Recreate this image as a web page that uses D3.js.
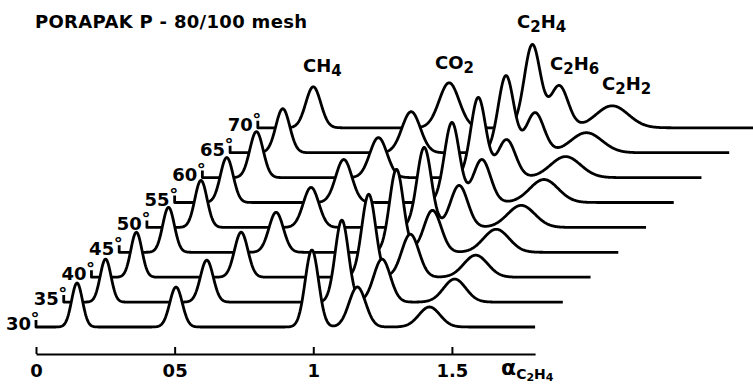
<!DOCTYPE html>
<html>
<head>
<meta charset="utf-8">
<script src="https://cdn.jsdelivr.net/npm/d3@7"></script>
<style>
  body { margin: 0; background: #fff; }
  svg text { font-family: "DejaVu Sans", sans-serif; font-weight: bold; fill: #000; }
</style>
</head>
<body>
<svg width="753" height="387"></svg>
<script>
// column temperatures, front trace first
const temps = [30, 35, 40, 45, 50, 55, 60, 65, 70];

// peak positions (alpha relative to C2H4), one per temperature
const posCH4  = [0.148, 0.151, 0.162, 0.178, 0.195, 0.188, 0.195, 0.190, 0.200];
const posCO2  = [0.505, 0.516, 0.540, 0.566, 0.592, 0.610, 0.635, 0.653, 0.690];
const posC2H4 = [0.995, 1.003, 1.000, 1.000, 1.000, 1.000, 0.995, 0.995, 0.990];
const posC2H6 = [1.159, 1.148, 1.150, 1.130, 1.126, 1.108, 1.097, 1.100, 1.087];
const posC2H2 = [1.419, 1.410, 1.386, 1.360, 1.350, 1.332, 1.310, 1.285, 1.278];

// peak heights (detector units)
const hCH4  = [44, 43, 45, 45, 47, 45, 46, 44, 41];
const hCO2  = [40, 42, 45, 40, 40, 43, 40, 41, 45];
const hC2H4 = [77, 82, 83, 83, 80, 80, 80, 77, 83];
const hC2H6 = [40, 43, 43, 42, 42, 43, 38, 40, 42];
const hC2H2 = [20, 23, 22, 23, 22, 23, 21, 20, 22];

// peak widths (sigma, alpha units)
const wCH4  = [0.0195, 0.0195, 0.020, 0.021, 0.022, 0.023, 0.024, 0.025, 0.027];
const wCO2  = [0.0225, 0.023, 0.024, 0.026, 0.028, 0.029, 0.031, 0.033, 0.036];
const wC2H4 = [0.024, 0.024, 0.025, 0.025, 0.026, 0.027, 0.027, 0.028, 0.029];
const wC2H6 = [0.030, 0.030, 0.031, 0.031, 0.031, 0.031, 0.032, 0.032, 0.032];
const wC2H2 = [0.038, 0.040, 0.043, 0.046, 0.049, 0.051, 0.054, 0.056, 0.058];

const tickValues = [0, 0.5, 1, 1.5];
const tickLabels = ['0', '05', '1', '1.5'];

const traceLength = 1.8;     // alpha span of each chromatogram
const shiftX = 0.1;          // alpha shift between successive traces
const shiftY = 24.9;         // signal shift between successive traces

const svg = d3.select('svg');

let x = d3.scaleLinear().domain([0, 1.8]).range([36, 535.1]);
let y = d3.scaleLinear().domain([0, 100]).range([327, 227]);

const peaks = temps.map((t, i) => [
    { p: posCH4[i],  h: hCH4[i],  w: wCH4[i] },
    { p: posCO2[i],  h: hCO2[i],  w: wCO2[i] },
    { p: posC2H4[i], h: hC2H4[i], w: wC2H4[i] },
    { p: posC2H6[i], h: hC2H6[i], w: wC2H6[i] },
    { p: posC2H2[i], h: hC2H2[i], w: wC2H2[i] },
]);

function signal(i, a) {
    return d3.sum(peaks[i], d => d.h * Math.exp(-0.5 * Math.pow((a - d.p) / d.w, 2)));
}

const traces = temps.map((t, i) => {
    let pts = d3.range(0, traceLength + 0.0001, 0.002).map(a => ({
        a: a + i * shiftX,
        v: signal(i, a) + i * shiftY
    }));
    return { t: t, i: i, pts: pts };
});

let line = d3.line().x(d => x(d.a)).y(d => y(d.v));
let area = d3.area().x(d => x(d.a)).y0(400).y1(d => y(d.v));

let traceG = svg.append('g');

// back to front, white fill hides the lines behind
traces.slice().reverse().forEach(tr => {
    let g = traceG.append('g');
    g.append('path')
        .attr('d', area(tr.pts))
        .attr('fill', '#fff');
    let x0 = x(tr.i * shiftX), y0 = y(tr.i * shiftY);
    g.append('path')
        .attr('d', 'M' + x0 + ',' + (y0 - 7) + 'L' + x0 + ',' + y0 + line(tr.pts).replace(/^M/, 'L'))
        .attr('fill', 'none')
        .attr('stroke', '#000')
        .attr('stroke-width', 2.8)
        .attr('stroke-linejoin', 'round');
});

// temperature labels
let labG = svg.append('g');
traces.forEach(tr => {
    let x0 = x(tr.i * shiftX), y0 = y(tr.i * shiftY);
    labG.append('text')
        .attr('x', x0 - 5)
        .attr('y', y0 + 3)
        .attr('text-anchor', 'end')
        .attr('font-size', 18)
        .text(tr.t);
    labG.append('text')
        .attr('x', x0 - 1)
        .attr('y', y0 - 2)
        .attr('text-anchor', 'middle')
        .attr('font-size', 18)
        .text('°');
});

// axis
let axis = d3.axisBottom(x)
    .tickValues(tickValues)
    .tickFormat((d, k) => tickLabels[k])
    .tickSizeInner(-7)
    .tickSizeOuter(0)
    .tickPadding(10);

let axG = svg.append('g')
    .attr('transform', 'translate(0,354)')
    .call(axis);
axG.select('.domain').attr('stroke', '#000').attr('stroke-width', 2);
axG.selectAll('.tick line').attr('stroke', '#000').attr('stroke-width', 2);
axG.selectAll('.tick text')
    .attr('font-size', 18)
    .attr('font-family', '"DejaVu Sans", sans-serif')
    .attr('font-weight', 'bold');

// axis title alpha_C2H4
let at = svg.append('text').attr('x', 501).attr('y', 375).attr('font-size', 22);
at.append('tspan').text('α');
at.append('tspan').attr('font-size', 14).attr('dy', 4).text('C');
at.append('tspan').attr('font-size', 11).attr('dy', 2).text('2');
at.append('tspan').attr('font-size', 14).attr('dy', -2).text('H');
at.append('tspan').attr('font-size', 11).attr('dy', 2).text('4');

// title
svg.append('text')
    .attr('x', 35).attr('y', 28)
    .attr('font-size', 18)
    .attr('textLength', 272)
    .text('PORAPAK P - 80/100 mesh');

// compound labels
function formula(xp, yp, parts) {
    let t = svg.append('text').attr('x', xp).attr('y', yp).attr('font-size', 18);
    let low = false;
    parts.forEach(p => {
        let sub = /\d/.test(p);
        let dy = sub && !low ? 4 : (!sub && low ? -4 : 0);
        low = sub;
        t.append('tspan').attr('dy', dy).attr('font-size', sub ? 15 : 18).text(p);
    });
}
formula(303, 72, ['CH', '4']);
formula(435, 69, ['CO', '2']);
formula(517, 28, ['C', '2', 'H', '4']);
formula(550, 70, ['C', '2', 'H', '6']);
formula(602, 90, ['C', '2', 'H', '2']);
</script>
</body>
</html>
